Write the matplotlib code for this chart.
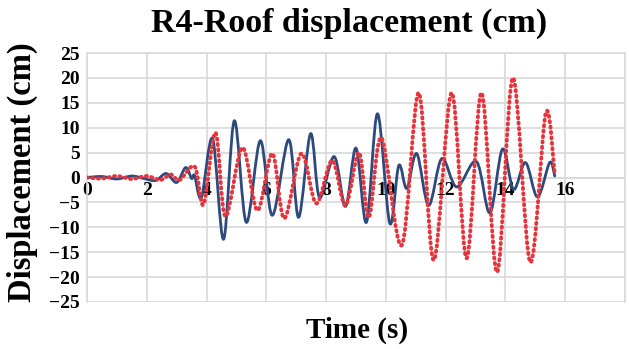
import numpy as np
import matplotlib
matplotlib.use('Agg')
import matplotlib.pyplot as plt
from matplotlib.path import Path
from matplotlib.patches import PathPatch

plt.rcParams['font.family'] = ['Liberation Serif', 'DejaVu Serif']
plt.rcParams['font.weight'] = 'bold'

# peaks / troughs: time (s), roof displacement (cm)
t_blue = [0.0, 0.5, 1.0, 1.5, 1.9, 2.3, 2.65, 3.0, 3.3, 3.5, 3.6, 3.83,
          4.2, 4.57, 4.93, 5.33, 5.8, 6.2, 6.75, 7.08, 7.48, 7.78, 8.27,
          8.65, 9.0, 9.35, 9.72, 10.13, 10.43, 10.7, 11.03, 11.43, 11.87,
          12.37, 13.03, 13.48, 13.9, 14.27, 14.67, 15.07, 15.48, 15.65]
d_blue = [0.0, 0.2, -0.3, 0.3, -0.2, -0.6, 0.8, -1.0, 2.0, -0.2, 0.4, -4.0,
          7.8, -12.4, 11.4, -9.0, 7.4, -7.6, 7.6, -8.0, 8.8, -4.0, 4.2,
          -5.8, 5.9, -9.0, 12.8, -9.2, 2.4, -2.2, 4.8, -5.6, 3.8,
          -1.9, 3.2, -7.1, 5.7, -2.4, 3.0, -3.9, 3.0, 0.3]

t_red = [0.0, 0.5, 1.0, 1.5, 2.0, 2.45, 2.8, 3.1, 3.6, 3.9, 4.3, 4.63,
         5.2, 5.7, 6.2, 6.6, 7.17, 7.67, 8.2, 8.65, 9.1, 9.43, 9.85,
         10.53, 11.1, 11.6, 12.2, 12.7, 13.2, 13.72, 14.25, 14.83, 15.35,
         15.65]
d_red = [0.0, -0.2, 0.3, -0.3, 0.3, -0.5, 0.6, -0.5, 2.2, -5.4, 9.0, -7.8,
         6.0, -6.6, 4.8, -8.2, 4.8, -5.2, 3.4, -5.6, 5.0, -8.0, 8.0,
         -13.6, 17.0, -16.6, 17.0, -16.2, 17.0, -19.0, 20.0, -17.0, 13.0,
         0.6]

x_ticks = [0, 2, 4, 6, 8, 10, 12, 14, 16, 18]
x_labels = ['0', '2', '4', '6', '8', '10', '12', '14', '16', '']
y_ticks = [-25, -20, -15, -10, -5, 0, 5, 10, 15, 20, 25]


def smooth_path(xs, ys):
    # Excel-style smoothed line: cubic Bezier through the read points
    pts = np.column_stack([xs, ys])
    n = len(pts)
    verts = [pts[0]]
    codes = [Path.MOVETO]
    for i in range(n - 1):
        p0 = pts[max(i - 1, 0)]
        p1 = pts[i]
        p2 = pts[i + 1]
        p3 = pts[min(i + 2, n - 1)]
        verts += [p1 + (p2 - p0) / 6, p2 - (p3 - p1) / 6, p2]
        codes += [Path.CURVE4] * 3
    return Path(verts, codes)


fig = plt.figure(figsize=(6.29, 3.49), dpi=100)
ax = fig.add_axes([87 / 629, 47 / 349, 538 / 629, 249 / 349])
ax.set_xlim(0, 18)
ax.set_ylim(-25, 25)

ax.grid(True, color='#d9d9d9', lw=1.2)
ax.set_axisbelow(True)
for s in ax.spines.values():
    s.set_color('#d9d9d9')
    s.set_linewidth(1.2)
ax.spines['bottom'].set_position(('data', 0))

ax.set_xticks(x_ticks)
ax.set_xticklabels(x_labels)
ax.set_yticks(y_ticks)
ax.tick_params(axis='x', length=0, pad=3, labelsize=14)
ax.tick_params(axis='y', length=0, pad=5, labelsize=14)

blue = PathPatch(smooth_path(t_blue, d_blue), fill=False, edgecolor='#2c4a7e',
                 lw=2.0, capstyle='round', joinstyle='round', zorder=3)
red = PathPatch(smooth_path(t_red, d_red), fill=False, edgecolor='#e5343b',
                lw=2.8, linestyle=(0, (0.3, 1.1)), capstyle='round', zorder=4)
ax.add_patch(blue)
ax.add_patch(red)

fig.text(349 / 629, 1 - 23 / 349, 'R4-Roof displacement (cm)', ha='center',
         va='center', fontsize=24.5, fontweight='bold')
fig.text(22 / 629, 1 - 172 / 349, 'Displacement (cm)', ha='center', va='center',
         rotation=90, fontsize=23.5, fontweight='bold')
fig.text(357 / 629, 1 - 330 / 349, 'Time (s)', ha='center', va='center',
         fontsize=21, fontweight='bold')

fig.savefig('out.png', dpi=100)
